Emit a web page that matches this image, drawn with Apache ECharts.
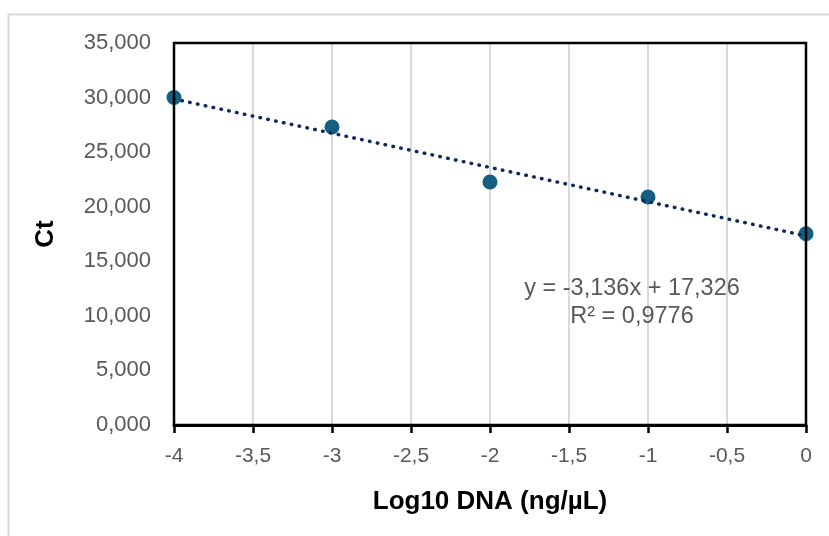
<!DOCTYPE html>
<html>
<head>
<meta charset="utf-8">
<script src="https://cdn.jsdelivr.net/npm/echarts@6/dist/echarts.min.js"></script>
<style>
  html, body { margin: 0; padding: 0; background: #fff; }
  #main { width: 829px; height: 536px; }
</style>
</head>
<body>
<div id="main"></div>
<script>
// valori
var logDna = [-4, -3, -2, -1, 0];
var ctValues = [30.01, 27.31, 22.26, 20.89, 17.52];
var xTicks = [-4, -3.5, -3, -2.5, -2, -1.5, -1, -0.5, 0];
var trendCoef = [-3.136, 17.326]; // pendenza, intercetta
var rSquared = [0.9776];

function comma(v) {
  return String(v).replace('.', ',');
}

var points = logDna.map(function (x, i) { return [x, ctValues[i]]; });
var xMin = xTicks[0], xMax = xTicks[xTicks.length - 1];
var trend = [
  [xMin, trendCoef[0] * xMin + trendCoef[1]],
  [xMax, trendCoef[0] * xMax + trendCoef[1]]
];
var eqText = 'y = ' + comma(trendCoef[0].toFixed(3)) + 'x + ' + comma(trendCoef[1].toFixed(3));
var r2Text = 'R² = ' + comma(rSquared[0].toFixed(4));

var W = 829, H = 536;
var G = { left: 174, right: 23, top: 43, bottom: 111 };
var font = '"Liberation Sans", Arial, sans-serif';

var chart = echarts.init(document.getElementById('main'));

var option = {
  backgroundColor: '#fff',
  animation: false,
  grid: { left: G.left, right: G.right, top: G.top, bottom: G.bottom },
  xAxis: {
    type: 'value',
    min: xMin, max: xMax, interval: 0.5,
    name: 'Log10 DNA (ng/µL)',
    nameLocation: 'middle',
    nameGap: 64,
    nameTextStyle: { color: '#000', fontSize: 26, fontWeight: 'bold', fontFamily: font },
    axisLine: { show: true, onZero: false, lineStyle: { color: '#000', width: 3 } },
    axisTick: { show: true, length: 8, lineStyle: { color: '#000', width: 2.5 } },
    axisLabel: {
      margin: 21, color: '#595959', fontSize: 21, fontFamily: font,
      formatter: function (v) { return comma(v); }
    },
    splitLine: { show: true, lineStyle: { color: '#d9d9d9', width: 2 } }
  },
  yAxis: {
    type: 'value',
    min: 0, max: 35, interval: 5,
    name: 'Ct',
    nameLocation: 'middle',
    nameGap: 115,
    nameTextStyle: { color: '#000', fontSize: 26, fontWeight: 'bold', fontFamily: font },
    axisLine: { show: false },
    axisTick: { show: false },
    axisLabel: {
      margin: 23, color: '#595959', fontSize: 22, fontFamily: font,
      formatter: function (v) { return comma(v.toFixed(3)); }
    },
    splitLine: { show: false }
  },
  graphic: [
    {
      type: 'rect', z: -10, silent: true,
      shape: { x: 8.5, y: 14.5, width: 900, height: 600 },
      style: { fill: 'none', stroke: '#d9d9d9', lineWidth: 2 }
    },
    {
      // cornice dell'area del grafico
      type: 'rect', z: 50, silent: true,
      shape: { x: G.left, y: G.top, width: W - G.left - G.right, height: H - G.top - G.bottom },
      style: { fill: 'none', stroke: '#000', lineWidth: 2.5 }
    },
    {
      type: 'text', x: 632, y: 289, silent: true, z: 60,
      style: { text: eqText, fill: '#595959', font: '23.5px ' + font, align: 'center', verticalAlign: 'middle' }
    },
    {
      type: 'text', x: 632, y: 317, silent: true, z: 60,
      style: { text: r2Text, fill: '#595959', font: '23.5px ' + font, align: 'center', verticalAlign: 'middle' }
    }
  ],
  series: [
    {
      name: 'Ct',
      type: 'scatter',
      data: points,
      symbol: 'circle',
      symbolSize: 15,
      itemStyle: { color: '#156082', opacity: 1 },
      z: 2
    },
    {
      name: 'trend',
      type: 'line',
      data: trend,
      symbol: 'none',
      lineStyle: { color: '#0b2a5e', width: 3.5, type: [0.5, 7.5], cap: 'round' },
      z: 3
    }
  ]
};

chart.setOption(option, true);
window.addEventListener('resize', function () {
  chart.resize();
});
</script>
</body>
</html>
